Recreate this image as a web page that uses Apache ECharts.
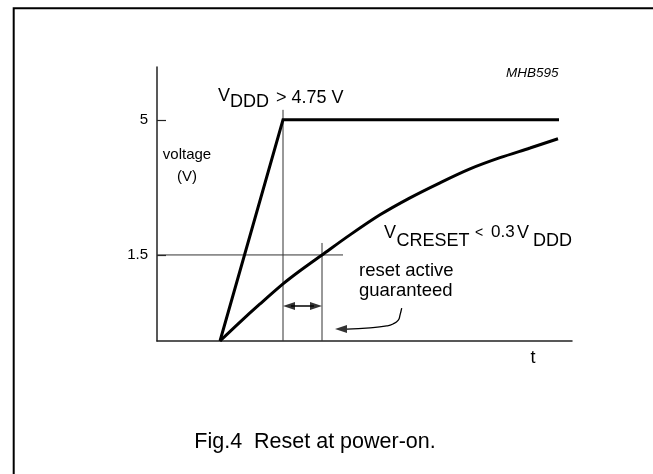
<!DOCTYPE html>
<html><head><meta charset="utf-8">
<script src="https://cdn.jsdelivr.net/npm/echarts@6/dist/echarts.min.js"></script>
<style>html,body{margin:0;padding:0;background:#fff}#c{width:653px;height:474px}</style>
</head><body><div id="c"></div>
<script>
// ---- Data (schematic: time in arbitrary units, voltage in V) ----
const vdddTime = [6.3, 12.6, 40.2];
const vdddVolt = [-0.73, 5, 5];
const cresetTime = [6.3, 8.3, 10.3, 12.6, 14.3, 16.5, 19.3, 22.3, 25.3, 28.3, 31.3, 34.3, 37.3, 40.1];
const cresetVolt = [-0.73, -0.24, 0.23, 0.75, 1.09, 1.50, 2.02, 2.54, 2.98, 3.37, 3.73, 4.02, 4.27, 4.51];
const yTickValues = [1.5, 5];
const yTickLabels = ['1.5', '5'];
const guideTimes = [12.6, 16.5];
const guideTops = [5.26, 1.81];
const thresholdVolt = [1.5];
const thresholdEndTime = [18.6];
const spanTimes = [12.6, 16.5];
const spanVolt = [0.18];
const pointerTime = [24.47, 24.3, 24.13, 23.6, 22.97, 21.3, 19.0, 17.8];
const pointerVolt = [0.12, -0.06, -0.19, -0.29, -0.34, -0.39, -0.42, -0.42];

const yMin = -0.73, yMax = 6.37, xMin = 0, xMax = 41.5;
const FONT = '"Liberation Sans", Arial, Helvetica, sans-serif';
const black = '#000';
const thin = '#333';

const chart = echarts.init(document.getElementById('c'), null, {renderer: 'canvas'});

function txt(text, x, y, size, opts) {
  opts = opts || {};
  return {
    type: 'text', x: x, y: y, silent: true,
    style: {
      text: text, fill: '#000',
      font: (opts.italic ? 'italic ' : '') + size + 'px ' + FONT,
      align: opts.align || 'left', verticalAlign: 'middle'
    }
  };
}

const pair = (xs, ys) => xs.map((x, i) => [x, ys[i]]);
const n = pointerTime.length;

const option = {
  animation: false,
  backgroundColor: '#fff',
  grid: {left: 157, top: 67, width: 415, height: 274, containLabel: false, outerBoundsMode: 'none'},
  xAxis: {
    type: 'value', min: xMin, max: xMax,
    axisLine: {show: true, onZero: false, lineStyle: {color: '#222', width: 1.5}},
    axisTick: {show: false}, axisLabel: {show: false}, splitLine: {show: false}
  },
  yAxis: {
    type: 'value', min: yMin, max: yMax,
    axisLine: {show: true, onZero: false, lineStyle: {color: '#222', width: 1.5}},
    axisTick: {show: true, inside: true, length: 9, customValues: yTickValues, lineStyle: {color: '#222', width: 1.2}},
    axisLabel: {
      show: true, customValues: yTickValues, margin: 9,
      fontFamily: FONT, fontSize: 15, color: '#000',
      formatter: v => yTickLabels[yTickValues.findIndex(t => Math.abs(t - v) < 1e-6)] || ''
    },
    splitLine: {show: false}
  },
  series: [
    {type: 'line', data: [[guideTimes[0], yMin], [guideTimes[0], guideTops[0]]], symbol: 'none',
     lineStyle: {color: thin, width: 1}, z: 2},
    {type: 'line', data: [[guideTimes[1], yMin], [guideTimes[1], guideTops[1]]], symbol: 'none',
     lineStyle: {color: thin, width: 1}, z: 2},
    {type: 'line', data: [[xMin, thresholdVolt[0]], [thresholdEndTime[0], thresholdVolt[0]]], symbol: 'none',
     lineStyle: {color: thin, width: 1}, z: 2},
    {name: 'VDDD', type: 'line', data: pair(vdddTime, vdddVolt), symbol: 'none',
     lineStyle: {color: black, width: 3, join: 'miter'}, z: 5},
    {name: 'VCRESET', type: 'line', data: pair(cresetTime, cresetVolt), symbol: 'none', smooth: 0.3,
     lineStyle: {color: black, width: 3}, z: 5},
    {type: 'line', data: [[spanTimes[0] + 0.8, spanVolt[0]], [spanTimes[1] - 0.8, spanVolt[0]]], symbol: 'none',
     lineStyle: {color: black, width: 1.5}, z: 4},
    {type: 'line', data: pair(pointerTime.slice(0, n - 1), pointerVolt.slice(0, n - 1)), symbol: 'none', smooth: 0.5,
     lineStyle: {color: black, width: 1.3}, z: 4},
    {type: 'scatter', symbol: 'triangle', symbolSize: [8, 12], itemStyle: {color: black}, z: 6,
     data: [
       {value: [spanTimes[0], spanVolt[0]], symbolRotate: 90, symbolOffset: [6, 0]},
       {value: [spanTimes[1], spanVolt[0]], symbolRotate: -90, symbolOffset: [-6, 0]},
       {value: [pointerTime[n - 1], pointerVolt[n - 1]], symbolRotate: 90, symbolOffset: [6, 0]}
     ]}
  ],
  graphic: [
    {type: 'rect', silent: true, shape: {x: 13.7, y: 8.3, width: 720, height: 520},
     style: {fill: 'none', stroke: '#000', lineWidth: 2}},
    txt('MHB595', 506, 73, 13.5, {italic: true}),
    txt('V', 218, 96, 18), txt('DDD', 230, 102.5, 18), txt('> 4.75 V', 276, 98, 18),
    txt('voltage', 187, 155, 15, {align: 'center'}),
    txt('(V)', 187, 177, 15, {align: 'center'}),
    txt('V', 384, 233, 18), txt('CRESET', 396.5, 241, 18), txt('<', 475, 233, 14),
    txt('0.3', 491, 232, 17), txt('V', 517, 233, 18), txt('DDD', 533, 241, 18),
    txt('reset active', 359, 271, 18.5), txt('guaranteed', 359, 291, 18.5),
    txt('t', 533, 358, 18, {align: 'center'}),
    txt('Fig.4  Reset at power-on.', 315, 442, 21.5, {align: 'center'})
  ]
};
chart.setOption(option);
</script></body></html>
